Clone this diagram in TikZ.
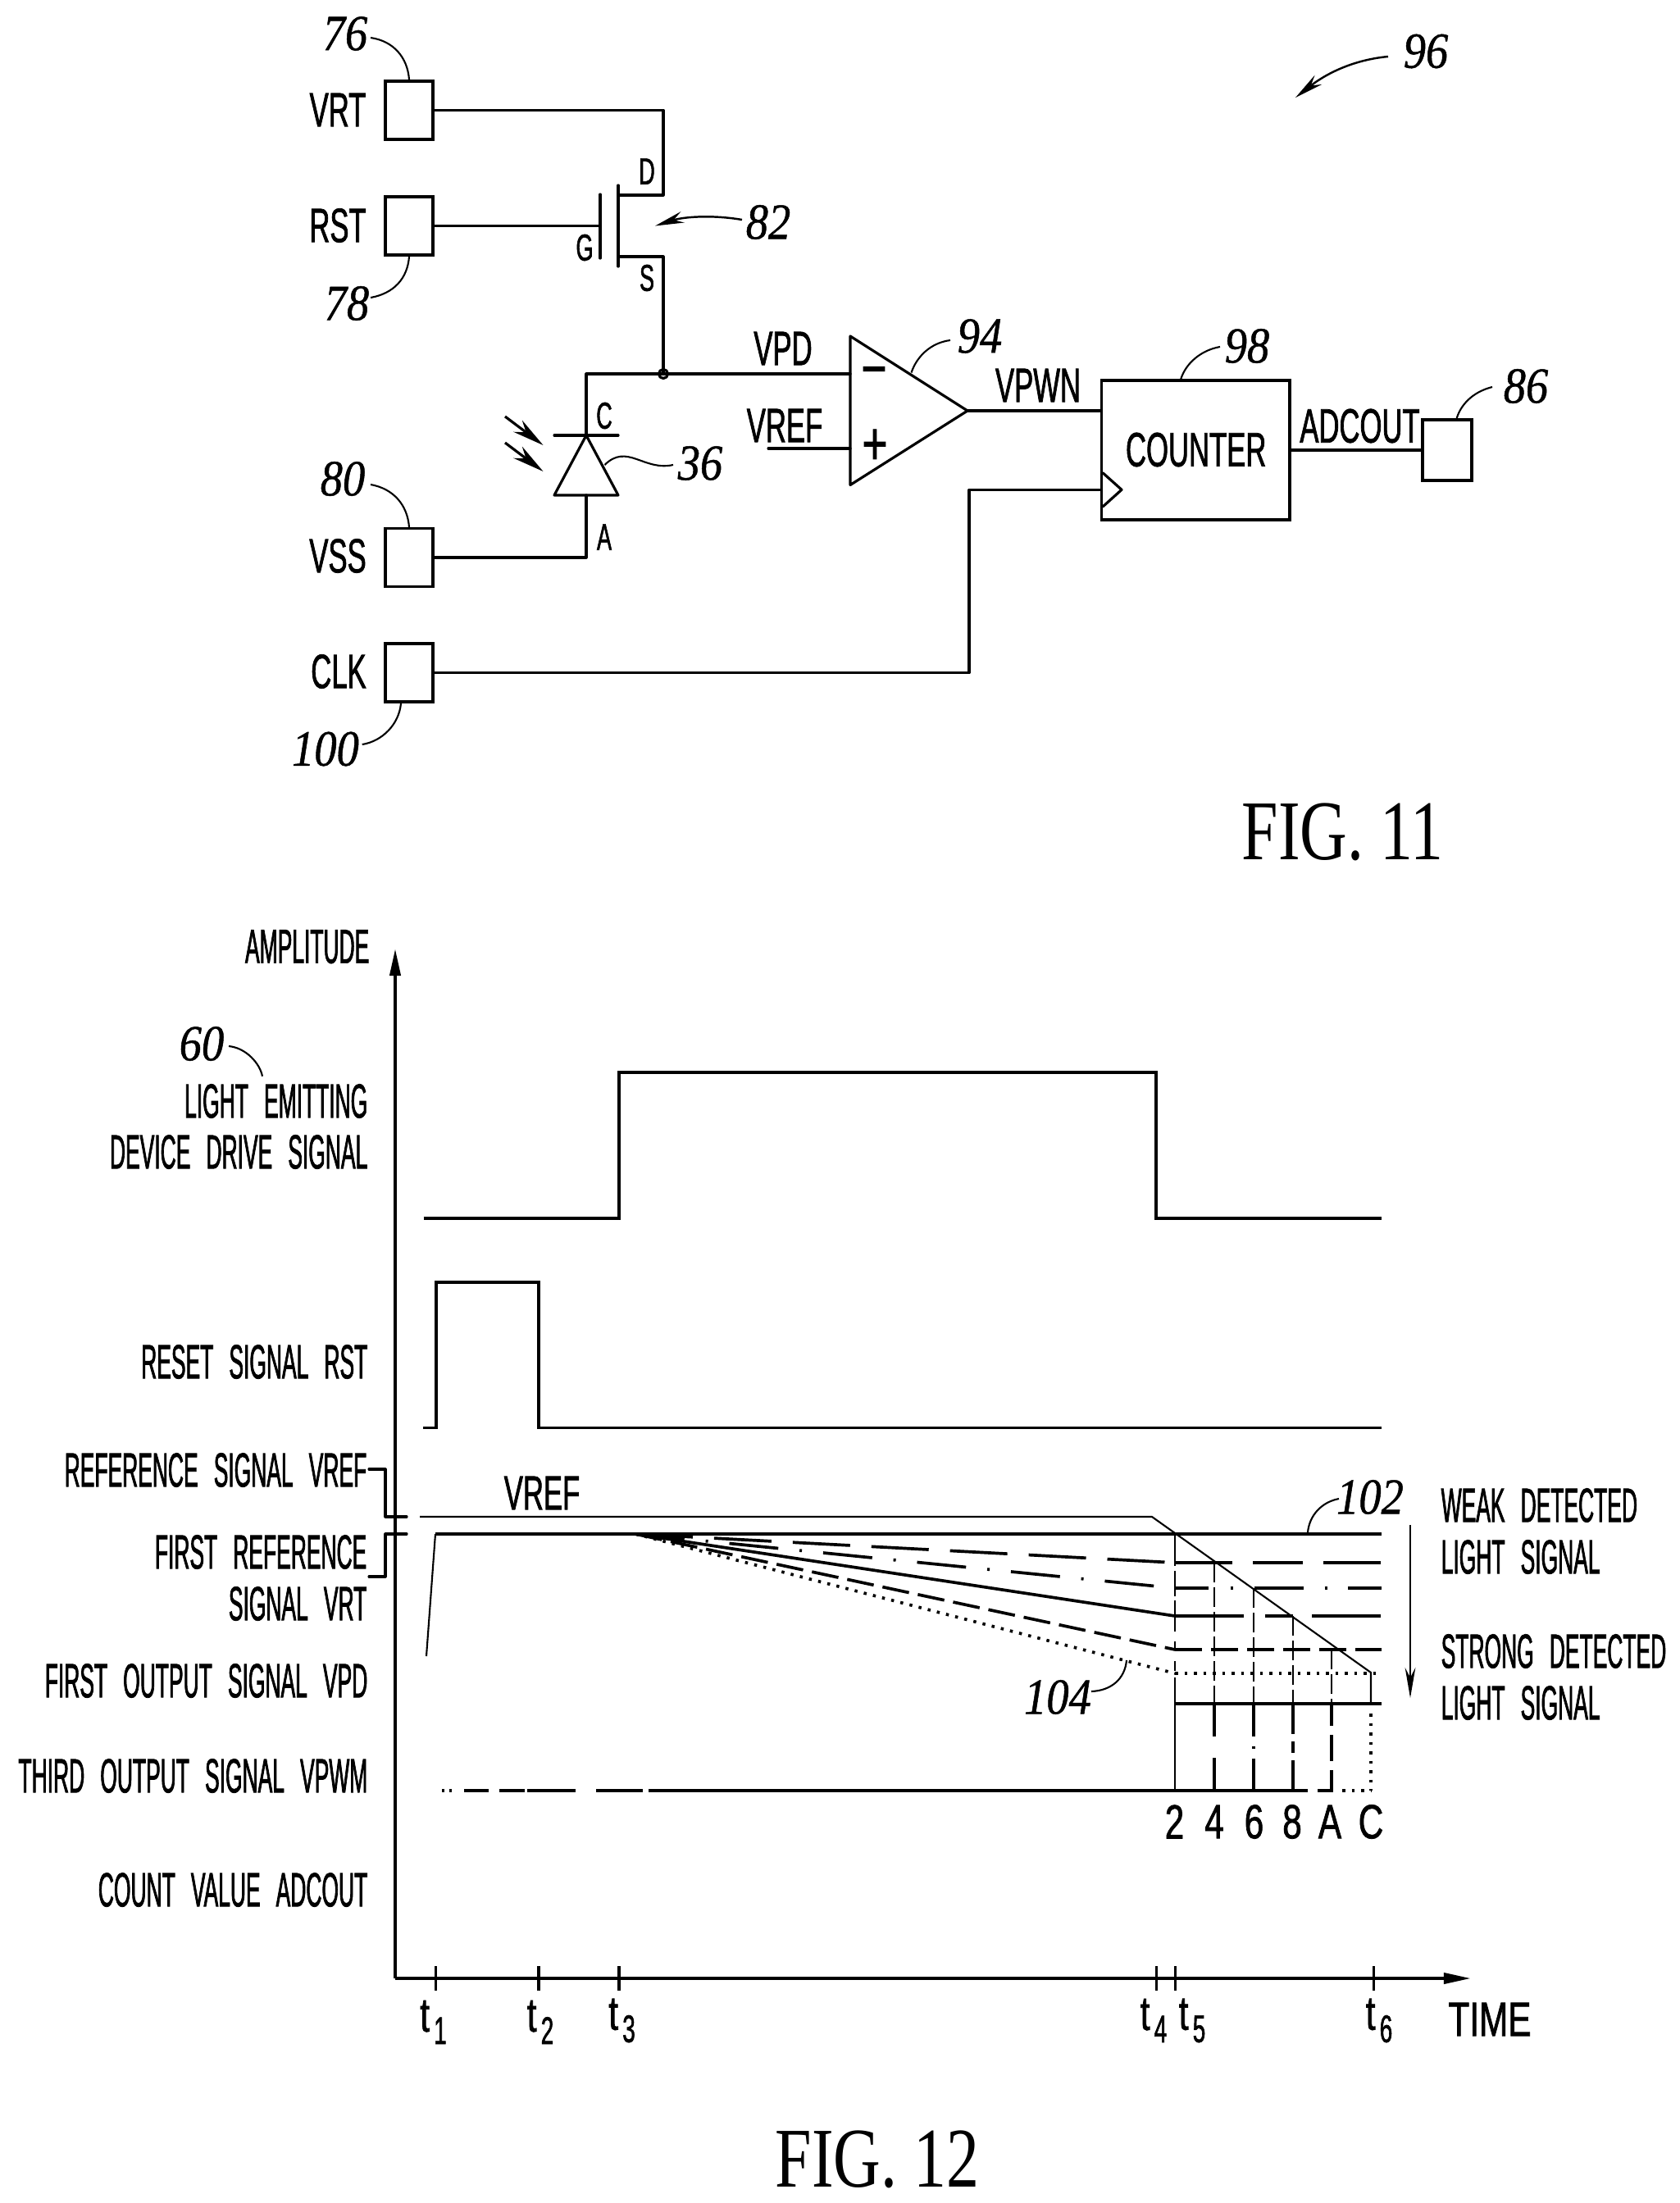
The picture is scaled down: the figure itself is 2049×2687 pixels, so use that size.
\documentclass[tikz,border=0pt]{standalone}
\usepackage{fontspec}
\usetikzlibrary{arrows.meta,positioning,calc}
\newfontfamily\padfont[FakeStretch=0.59,FakeBold=1.2]{Liberation Sans}
\newfontfamily\sigfont[FakeStretch=0.45,WordSpace=2.6,FakeBold=1.2]{Liberation Sans}
\newfontfamily\widefont[FakeStretch=0.72,FakeBold=1.2]{Liberation Sans}
\newfontfamily\numfont[FakeStretch=0.88,FakeBold=0.8]{Liberation Serif}
\newfontfamily\figfont[FakeStretch=0.77]{Liberation Serif}
\newcommand{\tsub}[1]{t\kern1.5pt\raisebox{-4.3pt}{\padfont\fontsize{13.4}{14}\selectfont #1}}

\begin{document}
\begin{tikzpicture}[
    x=0.01cm, y=-0.01cm,
    wire/.style={line width=0.9pt, line cap=round, line join=round},
    pad/.style={draw, line width=1.1pt, minimum width=0.58cm, minimum height=0.71cm, inner sep=0pt},
    padlabel/.style={font=\padfont\fontsize{16.7}{20}\selectfont, inner sep=0pt},
    pinlabel/.style={font=\padfont\fontsize{13}{15}\selectfont, inner sep=0pt},
    siglabel/.style={font=\sigfont\fontsize{16.7}{20}\selectfont, inner sep=0pt},
    widelabel/.style={font=\widefont\fontsize{16.7}{20}\selectfont, inner sep=0pt},
    signlabel/.style={font=\widefont\fontsize{21}{24}\selectfont, inner sep=0pt},
    refnum/.style={font=\numfont\itshape\fontsize{17.6}{20}\selectfont, inner sep=0pt},
    figlabel/.style={font=\figfont\fontsize{29.5}{34}\selectfont, inner sep=0pt},
    leader/.style={line width=0.6pt},
    pointer/.style={line width=0.7pt, -{Stealth[length=10pt,width=4pt]}},
    lightarrow/.style={line width=0.9pt, -{Stealth[length=11pt,width=5pt]}},
    axis/.style={line width=1.4pt, -{Triangle[length=9.7pt,width=3.6pt]}},
    thinline/.style={line width=0.45pt},
    rampline/.style={line width=0.6pt},
    tickline/.style={line width=0.9pt},
    sigline/.style={line width=1pt, line join=miter},
    fanline/.style={line width=1.05pt}
  ]
    \useasboundingbox (0,0) rectangle (2049,2687);

    % Pads
    \node[pad] (vrt) at (499,134.5) {};
    \node[pad] (rst) at (499,275.5) {};
    \node[pad] (vss) at (499,680) {};
    \node[pad] (clk) at (499,820.5) {};
    \node[padlabel] (vrtname) at (412,134) {VRT};
    \node[padlabel] (rstname) at (412,275) {RST};
    \node[padlabel] (vssname) at (412,678) {VSS};
    \node[padlabel] (clkname) at (413,819) {CLK};

    % Reset transistor
    \coordinate (drain) at (754,238);
    \coordinate (source) at (754,313);
    \coordinate (gate) at (732,275.5);
    \coordinate (junction) at (809,456);
    \draw[wire] (vrt.east) -- (809,134.5) |- (drain);
    \draw[wire] (754,226) -- (754,325);
    \draw[wire] (732,237) -- (732,315);
    \draw[wire] (rst.east) -- (gate);
    \draw[wire] (source) -| (junction);
    \draw[wire] (junction) circle (5.5);
    \node[pinlabel] (pind) at (789,209) {D};
    \node[pinlabel] (ping) at (713,302) {G};
    \node[pinlabel] (pins) at (789,339) {S};

    % Photodiode
    \coordinate (cathode) at (715,531);
    \coordinate (anode) at (715,604);
    \draw[wire] (junction) -- (715,456) -- (cathode);
    \draw[wire] (676,531) -- (754,531);
    \draw[wire] (cathode) -- (676,604) -- (754,604) -- cycle;
    \draw[wire] (anode) |- (vss.east);
    \draw[lightarrow] (616,508) -- (662.5,543);
    \draw[lightarrow] (616,540) -- (662.5,575);
    \node[pinlabel] (pinc) at (737,507) {C};
    \node[pinlabel] (pina) at (737,655) {A};

    % Comparator
    \coordinate (ampminus) at (1037,456);
    \coordinate (ampplus) at (1037,547);
    \coordinate (amptip) at (1180,501);
    \draw[wire] (1037,410) -- (amptip) -- (1037,591.5) -- cycle;
    \draw[wire] (junction) -- (ampminus);
    \draw[wire] (937,547) -- (ampplus);
    \node[signlabel] (signminus) at (1066,461) {\textminus};
    \node[signlabel] (signplus) at (1067,545) {+};
    \node[padlabel] (vpdname) at (955,425) {VPD};
    \node[padlabel] (vrefname) at (957,519) {VREF};
    \node[padlabel] (vpwnname) at (1266,470) {VPWN};

    % Counter
    \node[draw, line width=1pt, minimum width=2.293cm, minimum height=1.7cm, inner sep=0pt] (counter) at (1458.3,549) {};
    \node[padlabel] (countername) at (1458.7,548.5) {COUNTER};
    \node[pad, minimum width=0.6cm, minimum height=0.733cm] (adcpad) at (1765,549) {};
    \node[padlabel] (adcname) at (1658.5,519.5) {ADCOUT};
    \coordinate (clkbend) at (1182,597.3);
    \draw[wire] (amptip) -- (amptip -| counter.west);
    \draw[wire] (counter.east) -- (adcpad.west);
    \draw[wire] (clk.east) -| (clkbend) -- (clkbend -| counter.west);
    \draw[wire] (1345,576.7) -- (1368,597.3) -- (1345,618);

    % Numerals of FIG. 11
    \node[refnum] (n76) at (421,41) {76};
    \node[refnum] (n78) at (423,370) {78};
    \node[refnum] (n80) at (418,584) {80};
    \node[refnum] (n100) at (397,913.5) {100};
    \node[refnum] (n82) at (937,271) {82};
    \node[refnum] (n36) at (854,565) {36};
    \node[refnum] (n94) at (1195,410) {94};
    \node[refnum] (n98) at (1521,422) {98};
    \node[refnum] (n86) at (1861,471) {86};
    \node[refnum] (n96) at (1739,62.5) {96};
    \draw[leader] (452,46) .. controls (480,50) and (497,70) .. (499,97);
    \draw[leader] (452,363) .. controls (480,358) and (497,340) .. (499,313);
    \draw[leader] (452,591) .. controls (480,596) and (497,616) .. (499,643);
    \draw[leader] (441.7,908) .. controls (466.7,904) and (486.7,883) .. (489,858);
    \draw[leader] (737.5,567) .. controls (765,540) and (785,575) .. (821,567);
    \draw[leader] (1111.5,454.5) .. controls (1118,435) and (1135,418) .. (1159,415);
    \draw[leader] (1440,463) .. controls (1446,443) and (1465,427) .. (1488,423);
    \draw[leader] (1776.7,510) .. controls (1783,490) and (1800,477) .. (1820,472);
    \draw[pointer] (905,268) .. controls (870,262) and (835,264) .. (799,275.5);
    \draw[pointer] (1693,69) .. controls (1660,72) and (1625,84) .. (1580,119);
    \node[figlabel] (fig11) at (1637.7,1015) {FIG. 11};

    % Axes
    \coordinate (origin) at (482,2413);
    \draw[axis] (origin) -- (482,1156);
    \draw[axis] (origin) -- (1795,2413);
    \draw[tickline] (531.7,2398) -- (531.7,2428);
    \draw[tickline] (657,2398) -- (657,2428);
    \draw[tickline] (755,2398) -- (755,2428);
    \draw[tickline] (1410.5,2398) -- (1410.5,2428);
    \draw[tickline] (1433.5,2398) -- (1433.5,2428);
    \draw[tickline] (1675.6,2398) -- (1675.6,2428);
    \node[widelabel] (tick1) at (528.5,2466.5) {\tsub{1}};
    \node[widelabel] (tick2) at (659,2466.5) {\tsub{2}};
    \node[widelabel] (tick3) at (758.5,2464.5) {\tsub{3}};
    \node[widelabel] (tick4) at (1407,2464.5) {\tsub{4}};
    \node[widelabel] (tick5) at (1454,2464.5) {\tsub{5}};
    \node[widelabel] (tick6) at (1682,2464.5) {\tsub{6}};
    \node[widelabel] (timename) at (1817,2463) {TIME};
    \node[siglabel, anchor=east] (ampname) at (451,1154.7) {AMPLITUDE};

    % Signal names
    \node[siglabel, anchor=east] (sig60a) at (449,1343) {LIGHT EMITTING};
    \node[siglabel, anchor=east] (sig60b) at (449,1405) {DEVICE DRIVE SIGNAL};
    \node[siglabel, anchor=east] (sigrst) at (449,1661) {RESET SIGNAL RST};
    \node[siglabel, anchor=east] (sigvref) at (448,1793) {REFERENCE SIGNAL VREF};
    \node[siglabel, anchor=east] (sigvrta) at (448,1893) {FIRST REFERENCE};
    \node[siglabel, anchor=east] (sigvrtb) at (448,1956) {SIGNAL VRT};
    \node[siglabel, anchor=east] (sigvpd) at (449,2050) {FIRST OUTPUT SIGNAL VPD};
    \node[siglabel, anchor=east] (sigvpwm) at (449,2166) {THIRD OUTPUT SIGNAL VPWM};
    \node[siglabel, anchor=east] (sigadc) at (449,2305) {COUNT VALUE ADCOUT};
    \node[siglabel, anchor=west] (weaka) at (1757,1836) {WEAK DETECTED};
    \node[siglabel, anchor=west] (weakb) at (1757,1899) {LIGHT SIGNAL};
    \node[siglabel, anchor=west] (stronga) at (1757,2014) {STRONG DETECTED};
    \node[siglabel, anchor=west] (strongb) at (1757,2077) {LIGHT SIGNAL};
    \node[padlabel] (vrefcurve) at (661,1821) {VREF};
    \node[refnum] (n60) at (246,1273) {60};
    \node[refnum] (n102) at (1671,1826) {102};
    \node[refnum] (n104) at (1290,2070) {104};
    \draw[leader] (279,1276) .. controls (300,1278) and (317,1297) .. (320,1312.7);
    \draw[leader] (1595,1869) .. controls (1597,1848) and (1612,1832) .. (1633,1828);
    \draw[leader] (1331,2063) .. controls (1355,2062) and (1372,2048) .. (1374,2025);

    % Brackets
    \draw[wire] (450,1792) -- (470,1792) -- (470,1850) -- (496,1850);
    \draw[wire] (496,1871) -- (470,1871) -- (470,1923) -- (450,1923);

    % Drive and reset signals
    \draw[sigline] (516.7,1486) -- (755,1486) -- (755,1308) -- (1410,1308) -- (1410,1486) -- (1685,1486);
    \draw[sigline] (516,1741.5) -- (532,1741.5) -- (532,1564) -- (657,1564) -- (657,1741.5) -- (1685,1741.5);

    % Reference ramp
    \draw[rampline] (512,1850) -- (1405,1850) -- (1672,2040) -- (1672,2078);

    % First output signal
    \draw[rampline] (520,2020) -- (531,1871);
    \draw[fanline] (531,1871) -- (1685,1871);
    \draw[fanline, dash pattern=on 0.7cm off 0.26cm] (775,1871) -- (1433,1906);
    \draw[fanline, dash pattern=on 0.6cm off 0.26cm on 0.03cm off 0.26cm] (775,1871) -- (1433,1937);
    \draw[fanline] (775,1871) -- (1433,1971);
    \draw[fanline, dash pattern=on 0.33cm off 0.11cm] (775,1871) -- (1433,2012);
    \draw[fanline, dash pattern=on 0.035cm off 0.08cm] (775,1871) -- (1433,2041);
    \draw[fanline, dash pattern=on 0.7cm off 0.25cm on 0.61cm off 0.25cm] (1433,1906) -- (1685,1906);
    \draw[fanline, dash pattern=on 0.41cm off 0.265cm on 0.03cm off 0.265cm on 0.6cm off 0.255cm on 0.03cm off 0.255cm] (1433,1937) -- (1685,1937);
    \draw[fanline, dash pattern=on 0.84cm off 0.26cm on 0.34cm off 0.23cm] (1433,1971) -- (1685,1971);
    \draw[fanline, dash pattern=on 0.33cm off 0.11cm] (1433,2012) -- (1685,2012);
    \draw[fanline, dash pattern=on 0.035cm off 0.08cm] (1433,2041) -- (1685,2041);
    \draw[fanline] (1433,2078) -- (1685,2078);

    % Counter sampling lines
    \draw[line width=0.8pt, dash pattern=on 0.39cm off 0.06cm on 0.31cm off 0.05cm on 0.38cm off 0.12cm on 0.11cm off 0.13cm on 0.12cm off 0.08cm on 2cm off 0.01cm] (1433,1871) -- (1433,2184);
    \draw[thinline, dash pattern=on 0.24cm off 0.06cm] (1481,1906) -- (1481,2078);
    \draw[thinline, dash pattern=on 0.24cm off 0.06cm] (1529,1937) -- (1529,2078);
    \draw[thinline, dash pattern=on 0.24cm off 0.06cm] (1577,1971) -- (1577,2078);
    \draw[thinline, dash pattern=on 0.24cm off 0.06cm] (1624,2012) -- (1624,2078);
    \draw[tickline, dash pattern=on 0.4cm off 0.26cm] (1481,2078) -- (1481,2184);
    \draw[tickline, dash pattern=on 0.4cm off 0.12cm on 0.03cm off 0.12cm] (1529,2078) -- (1529,2184);
    \draw[tickline, dash pattern=on 0.37cm off 0.09cm on 0.14cm off 0.09cm] (1577,2078) -- (1577,2184);
    \draw[tickline, dash pattern=on 0.27cm off 0.11cm on 0.32cm off 0.11cm] (1624,2078) -- (1624,2184);
    \draw[fanline, dash pattern=on 0.035cm off 0.08cm] (1672,2090) -- (1672,2184);

    % Third output signal
    \draw[fanline, dash pattern=on 0.03cm off 0.06cm on 0.03cm off 0.15cm on 0.3cm off 0.13cm on 0.31cm off 0.03cm on 0.585cm off 0.255cm on 0.57cm off 0.07cm] (539,2184) -- (791,2184);
    \draw[fanline] (791,2184) -- (1595,2184);
    \draw[fanline] (1607,2184) -- (1626,2184);
    \draw[fanline, dash pattern=on 0.035cm off 0.08cm] (1637,2184) -- (1673,2184);
    \node[widelabel] (cnt2) at (1432.5,2222) {2};
    \node[widelabel] (cnt4) at (1481,2222) {4};
    \node[widelabel] (cnt6) at (1529.5,2222) {6};
    \node[widelabel] (cnt8) at (1576,2222) {8};
    \node[widelabel] (cnta) at (1622,2222) {A};
    \node[widelabel] (cntc) at (1672,2222) {C};

    % Detected light arrow
    \draw[line width=0.6pt, -{Stealth[length=10.5pt,width=3.6pt]}] (1720,1860) -- (1720,2071);

    \node[figlabel] (fig12) at (1070,2634) {FIG. 12};
  \end{tikzpicture}
\end{document}
